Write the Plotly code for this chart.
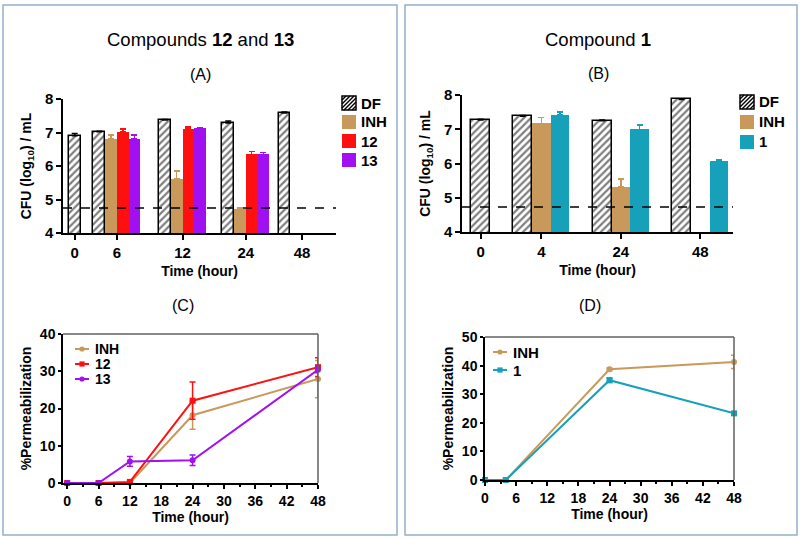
import plotly.graph_objects as go

# ---------------- Data ----------------
# Panel A: CFU bars, compounds 12 and 13
A_groups = ["0", "6", "12", "24", "48"]
A_series = ["DF", "INH", "12", "13"]
A_DF = [6.90, 7.02, 7.37, 7.28, 7.58]
A_DF_err = [0.07, 0.02, 0.02, 0.06, 0.03]
A_INH = [None, 6.80, 5.62, 4.73, None]
A_INH_err = [0, 0.13, 0.23, 0.01, 0]
A_12 = [None, 7.03, 7.10, 6.35, None]
A_12_err = [0, 0.07, 0.07, 0.09, 0]
A_13 = [None, 6.80, 7.12, 6.35, None]
A_13_err = [0, 0.13, 0.03, 0.06, 0]
A_limit = 4.75

# Panel B: CFU bars, compound 1
B_groups = ["0", "4", "24", "48"]
B_series = ["DF", "INH", "1"]
B_DF = [7.27, 7.38, 7.25, 7.87]
B_DF_err = [0.02, 0.02, 0.02, 0.02]
B_INH = [None, 7.17, 5.32, None]
B_INH_err = [0, 0.17, 0.23, 0]
B_1 = [None, 7.43, 7.00, 6.08]
B_1_err = [0, 0.07, 0.13, 0.03]
B_limit = 4.73

# Panel C: permeabilization, compounds 12 and 13
C_series = ["INH", "12", "13"]
C_time = [0, 6, 12, 24, 48]
C_INH = [0, 0, 0, 18.2, 27.9]
C_INH_err = [0, 0, 0, 3.8, 5.0]
C_12 = [0, 0, 0.3, 22.1, 31.1]
C_12_err = [0, 0, 0.3, 5.0, 2.5]
C_13 = [0, 0, 5.8, 6.1, 30.4]
C_13_err = [0, 0, 1.3, 1.4, 0.8]

# Panel D: permeabilization, compound 1
D_series = ["INH", "1"]
D_time = [0, 4, 24, 48]
D_INH = [0, 0, 38.7, 41.3]
D_INH_err = [0, 0, 0.5, 2.3]
D_1 = [0, 0, 34.9, 23.3]
D_1_err = [0, 0, 0.8, 0.5]

# ---------------- Layout helpers ----------------
W, H = 800, 539
FONT = "Liberation Sans, Arial, sans-serif"
COL_INH = "#C8995B"
COL_RED = "#FF1010"
COL_PUR = "#A010F0"
COL_CYAN = "#17A0B9"

# group centres along the bar axes (slot units) and slots per group
A_pos = [1.0, 4.6, 10.2, 15.6, 20.4]
A_slots = [1, 4, 4, 4, 4]
B_pos = [1.0, 4.25, 8.5, 12.75]
B_slots = [1, 3, 3, 3]


def px(x):
    return x / W


def py(y):
    return 1 - y / H


def slot_x(pos, slots, s):
    return [p + (s - (n - 1) / 2) if n > 1 else p for p, n in zip(pos, slots)]


fig = go.Figure()

hatch = dict(shape="/", fgcolor="black", bgcolor="white", size=5, solidity=0.45)


def add_bar(xref, yref, xs, ys, errs, name, color, pattern=None):
    marker = dict(color=color, line=dict(color="black" if pattern else color,
                                         width=1.5 if pattern else 0))
    if pattern is not None:
        marker["pattern"] = pattern
    fig.add_trace(go.Bar(
        x=xs, y=ys, width=1.0, name=name, marker=marker, showlegend=False,
        xaxis=xref, yaxis=yref,
        error_y=dict(type="data", symmetric=False, array=errs,
                     arrayminus=[0] * len(errs), color="black" if pattern else color,
                     thickness=1.5, width=3),
    ))


add_bar("x", "y", slot_x(A_pos, A_slots, 0), A_DF, A_DF_err, A_series[0], "white", hatch)
add_bar("x", "y", slot_x(A_pos, A_slots, 1), A_INH, A_INH_err, A_series[1], COL_INH)
add_bar("x", "y", slot_x(A_pos, A_slots, 2), A_12, A_12_err, A_series[2], COL_RED)
add_bar("x", "y", slot_x(A_pos, A_slots, 3), A_13, A_13_err, A_series[3], COL_PUR)

add_bar("x2", "y2", slot_x(B_pos, B_slots, 0), B_DF, B_DF_err, B_series[0], "white", hatch)
add_bar("x2", "y2", slot_x(B_pos, B_slots, 1), B_INH, B_INH_err, B_series[1], COL_INH)
add_bar("x2", "y2", slot_x(B_pos, B_slots, 2), B_1, B_1_err, B_series[2], COL_CYAN)


def add_line(xref, yref, xs, ys, errs, name, color, symbol):
    fig.add_trace(go.Scatter(
        x=xs, y=ys, mode="lines+markers", name=name, showlegend=False,
        line=dict(color=color, width=2),
        marker=dict(color=color, symbol=symbol, size=6),
        error_y=dict(type="data", array=errs, color=color, thickness=1.5, width=3),
        xaxis=xref, yaxis=yref, cliponaxis=False,
    ))


add_line("x3", "y3", C_time, C_INH, C_INH_err, C_series[0], COL_INH, "circle")
add_line("x3", "y3", C_time, C_12, C_12_err, C_series[1], COL_RED, "square")
add_line("x3", "y3", C_time, C_13, C_13_err, C_series[2], COL_PUR, "circle")

add_line("x4", "y4", D_time, D_INH, D_INH_err, D_series[0], COL_INH, "circle")
add_line("x4", "y4", D_time, D_1, D_1_err, D_series[1], COL_CYAN, "square")

tickfont_bar = dict(family=FONT, size=15, color="black", weight="bold")
tickfont_line = dict(family=FONT, size=14, color="black", weight="bold")
titlefont = dict(family=FONT, size=14, color="black", weight="bold")

common = dict(showline=True, linecolor="black", linewidth=1.5, ticks="outside",
              tickwidth=1.5, tickcolor="black", showgrid=False,
              zeroline=False, title_font=titlefont, automargin=False)

minor = dict(ticks="outside", ticklen=2, tickwidth=1.5, tickcolor="black", dtick=3, tick0=0)
hours = [0, 6, 12, 18, 24, 30, 36, 42, 48]

fig.update_layout(
    width=W, height=H, margin=dict(l=0, r=0, t=0, b=0, pad=0, autoexpand=False),
    paper_bgcolor="white", plot_bgcolor="white",
    font=dict(family=FONT, color="black"),
    barmode="overlay", bargap=0, showlegend=False,
    xaxis=dict(domain=[px(63), px(336)], range=[0, 23.3], tickvals=A_pos,
               ticktext=A_groups, title_text="Time (hour)", anchor="y", ticklen=5,
               tickfont=tickfont_bar, title_standoff=6, **common),
    yaxis=dict(domain=[py(233), py(99)], anchor="x", range=[4, 8], ticklen=5,
               tickvals=[4, 5, 6, 7, 8], tickfont=tickfont_bar, title_standoff=10,
               title_text="CFU (log<sub>10</sub>) / mL", **common),
    xaxis2=dict(domain=[px(462), px(733)], range=[0, 14.5], tickvals=B_pos,
                ticktext=B_groups, title_text="Time (hour)", anchor="y2", ticklen=5,
                tickfont=tickfont_bar, title_standoff=6, **common),
    yaxis2=dict(domain=[py(232), py(95)], anchor="x2", range=[4, 8], ticklen=5,
                tickvals=[4, 5, 6, 7, 8], tickfont=tickfont_bar, title_standoff=10,
                title_text="CFU (log<sub>10</sub>) / mL", **common),
    xaxis3=dict(domain=[px(63), px(318)], range=[-0.8, 48], tickvals=hours, ticklen=4,
                title_text="Time (hour)", anchor="y3", tickfont=tickfont_line,
                title_standoff=4, minor=minor, **common),
    yaxis3=dict(domain=[py(483), py(334)], range=[0, 40], tickvals=[0, 10, 20, 30, 40],
                anchor="x3", title_text="%Permeabilization", tickfont=tickfont_line,
                ticklen=3, title_standoff=5, **common),
    xaxis4=dict(domain=[px(485), px(734)], range=[0, 48], tickvals=hours, ticklen=4,
                title_text="Time (hour)", anchor="y4", tickfont=tickfont_line,
                title_standoff=4, minor=minor, **common),
    yaxis4=dict(domain=[py(480), py(337)], range=[0, 50], tickvals=[0, 10, 20, 30, 40, 50],
                anchor="x4", title_text="%Permeabilization", tickfont=tickfont_line,
                ticklen=3, title_standoff=5, **common),
)

# detection-limit dashed lines
fig.add_shape(type="line", xref="x domain", yref="y", x0=0, x1=1, y0=A_limit, y1=A_limit,
              line=dict(color="black", width=1.5, dash="dash"))
fig.add_shape(type="line", xref="x2 domain", yref="y2", x0=0, x1=1, y0=B_limit, y1=B_limit,
              line=dict(color="black", width=1.5, dash="dash"))

# top/right frame lines on line plots
for ax in ("3", "4"):
    fig.add_shape(type="line", xref=f"x{ax} domain", yref=f"y{ax} domain", x0=0, x1=1, y0=1, y1=1,
                  line=dict(color="#606060", width=1.5))
    fig.add_shape(type="line", xref=f"x{ax} domain", yref=f"y{ax} domain", x0=1, x1=1, y0=0, y1=1,
                  line=dict(color="#606060", width=1.5))

# panel frames
FRAME = "#94AECB"
fig.add_shape(type="rect", xref="paper", yref="paper", x0=px(3), x1=px(397), y0=py(535), y1=py(5),
              line=dict(color=FRAME, width=1.5))
fig.add_shape(type="rect", xref="paper", yref="paper", x0=px(405), x1=px(797), y0=py(535), y1=py(5),
              line=dict(color=FRAME, width=1.5))


def note(x, y, text, size, anchor="center", bold=False):
    fig.add_annotation(x=px(x), y=py(y), xref="paper", yref="paper", text=text,
                       showarrow=False, xanchor=anchor, yanchor="middle",
                       font=dict(family=FONT, size=size, color="black",
                                 weight="bold" if bold else "normal"))


# titles
note(200, 40, "Compounds <b>12</b> and <b>13</b>", 18.5)
note(598, 40, "Compound <b>1</b>", 18.5)
note(200, 75, "(A)", 16)
note(598, 73, "(B)", 16)
note(183, 305, "(C)", 16)
note(590, 305, "(D)", 16)


# ---- manual legends ----
def swatch(x0, yc, s, color, hatched=False):
    y0, y1 = yc - s / 2, yc + s / 2
    fig.add_shape(type="rect", xref="paper", yref="paper", x0=px(x0), x1=px(x0 + s),
                  y0=py(y1), y1=py(y0), fillcolor=color,
                  line=dict(color="black" if hatched else color, width=1.5 if hatched else 0))
    if hatched:
        step = 4.0
        c = -s + step
        while c < s:
            xa, xb = max(0, -c), min(s, s - c)
            fig.add_shape(type="line", xref="paper", yref="paper",
                          x0=px(x0 + xa), y0=py(y1 - (xa + c)),
                          x1=px(x0 + xb), y1=py(y1 - (xb + c)),
                          line=dict(color="black", width=1.5))
            c += step


def bar_legend(x0, ys, names, colors, text_x):
    for i, (yc, nm, col) in enumerate(zip(ys, names, colors)):
        swatch(x0, yc, 14, col, hatched=(i == 0))
        note(text_x, yc, nm, 15, anchor="left", bold=True)


bar_legend(342, [103, 122, 141, 160], A_series, ["white", COL_INH, COL_RED, COL_PUR], 359)
bar_legend(740, [102, 122, 142], B_series, ["white", COL_INH, COL_CYAN], 757)


def line_legend(x0, x1, ys, names, colors, symbols, text_x, size):
    for yc, nm, col, sym in zip(ys, names, colors, symbols):
        fig.add_shape(type="line", xref="paper", yref="paper", x0=px(x0), x1=px(x1),
                      y0=py(yc), y1=py(yc), line=dict(color=col, width=2))
        xm = (x0 + x1) / 2
        r = 2.6
        fig.add_shape(type="circle" if sym == "circle" else "rect", xref="paper", yref="paper",
                      x0=px(xm - r), x1=px(xm + r), y0=py(yc + r), y1=py(yc - r),
                      fillcolor=col, line=dict(color=col, width=0))
        note(text_x, yc, nm, size, anchor="left", bold=True)


line_legend(75, 89, [349, 364, 379], C_series, [COL_INH, COL_RED, COL_PUR],
            ["circle", "square", "circle"], 93, 14)
line_legend(493, 507, [352, 370], D_series, [COL_INH, COL_CYAN], ["circle", "square"], 511, 15)

fig.write_html(
    "out.html",
    config={"displayModeBar": False},
    post_script=("document.documentElement.style.margin='0';"
                 "document.body.style.margin='0';document.body.style.overflow='hidden';"
                 "var d=document.getElementById('{plot_id}');"
                 "d.style.position='absolute';d.style.left='0px';d.style.top='0px';"),
)
